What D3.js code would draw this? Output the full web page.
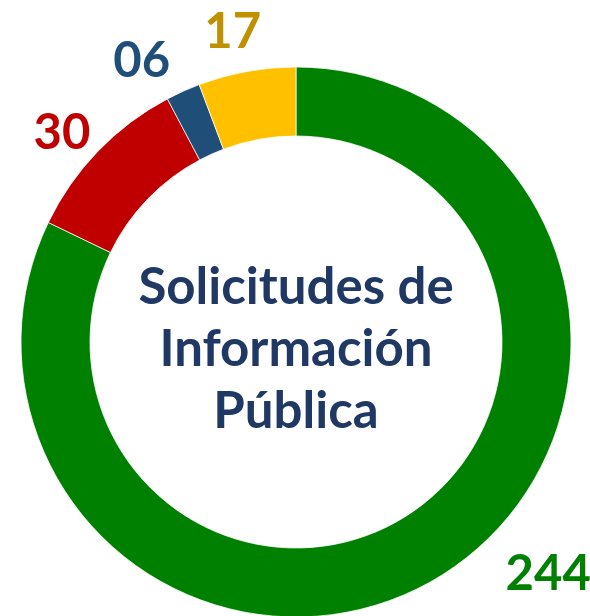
<!DOCTYPE html>
<html>
<head>
<meta charset="utf-8">
<script src="https://cdn.jsdelivr.net/npm/d3@7"></script>
<style>
  html, body { margin: 0; padding: 0; background: #fff; }
  svg { display: block; }
</style>
</head>
<body>
<svg id="chart" width="590" height="616"></svg>
<script>
// Solicitudes de Información Pública — counts by status
const categories = ["A", "B", "C", "D"];
const values = [244, 30, 6, 17];
const valueLabels = ["244", "30", "06", "17"];
const sliceColors = ["#008000", "#C00000", "#1F4E79", "#FFC000"];
const labelColors = ["#008000", "#C00000", "#1F4E79", "#BF9000"];
const titleLines = ["Solicitudes de", "Información", "Pública"];

const W = 590, H = 616;
const cx = 296, cy = 342;
const outerR = 275, innerR = 206;

const svg = d3.select("#chart");
const g = svg.append("g").attr("transform", `translate(${cx},${cy})`);

const pie = d3.pie().sort(null).value(d => d.value);
const arcs = pie(categories.map((c, i) => ({ cat: c, value: values[i], i })));

const arc = d3.arc().innerRadius(innerR).outerRadius(outerR);

g.selectAll("path.slice")
  .data(arcs)
  .join("path")
  .attr("class", "slice")
  .attr("d", arc)
  .attr("fill", d => sliceColors[d.data.i])
  .attr("stroke", "#fff")
  .attr("stroke-width", 0.75);

// Label placement: angle shift (radians) from slice middle and distance from centre
const labelPlacement = [
  { shift: -0.272, r: 341 },
  { shift: -0.03, r: 316 },
  { shift: -0.075, r: 323 },
  { shift: -0.02, r: 319 }
];

g.selectAll("text.value")
  .data(arcs)
  .join("text")
  .attr("class", "value")
  .each(function (d) {
    const p = labelPlacement[d.data.i];
    const a = (d.startAngle + d.endAngle) / 2 + p.shift;
    d3.select(this)
      .attr("x", Math.sin(a) * p.r)
      .attr("y", -Math.cos(a) * p.r);
  })
  .attr("text-anchor", "middle")
  .attr("dominant-baseline", "central")
  .attr("font-family", "Lato, 'Open Sans', sans-serif")
  .attr("font-weight", 700)
  .attr("font-size", 49)
  .attr("fill", d => labelColors[d.data.i])
  .text(d => valueLabels[d.data.i]);

// Centre title
const lineGap = 62;
g.append("text")
  .attr("text-anchor", "middle")
  .attr("font-family", "Lato, 'Open Sans', sans-serif")
  .attr("font-weight", 700)
  .attr("font-size", 51)
  .attr("fill", "#1F3864")
  .selectAll("tspan")
  .data(titleLines)
  .join("tspan")
  .attr("x", 0)
  .attr("y", (d, i) => (i - 1) * lineGap + 24)
  .text(d => d);
</script>
</body>
</html>
